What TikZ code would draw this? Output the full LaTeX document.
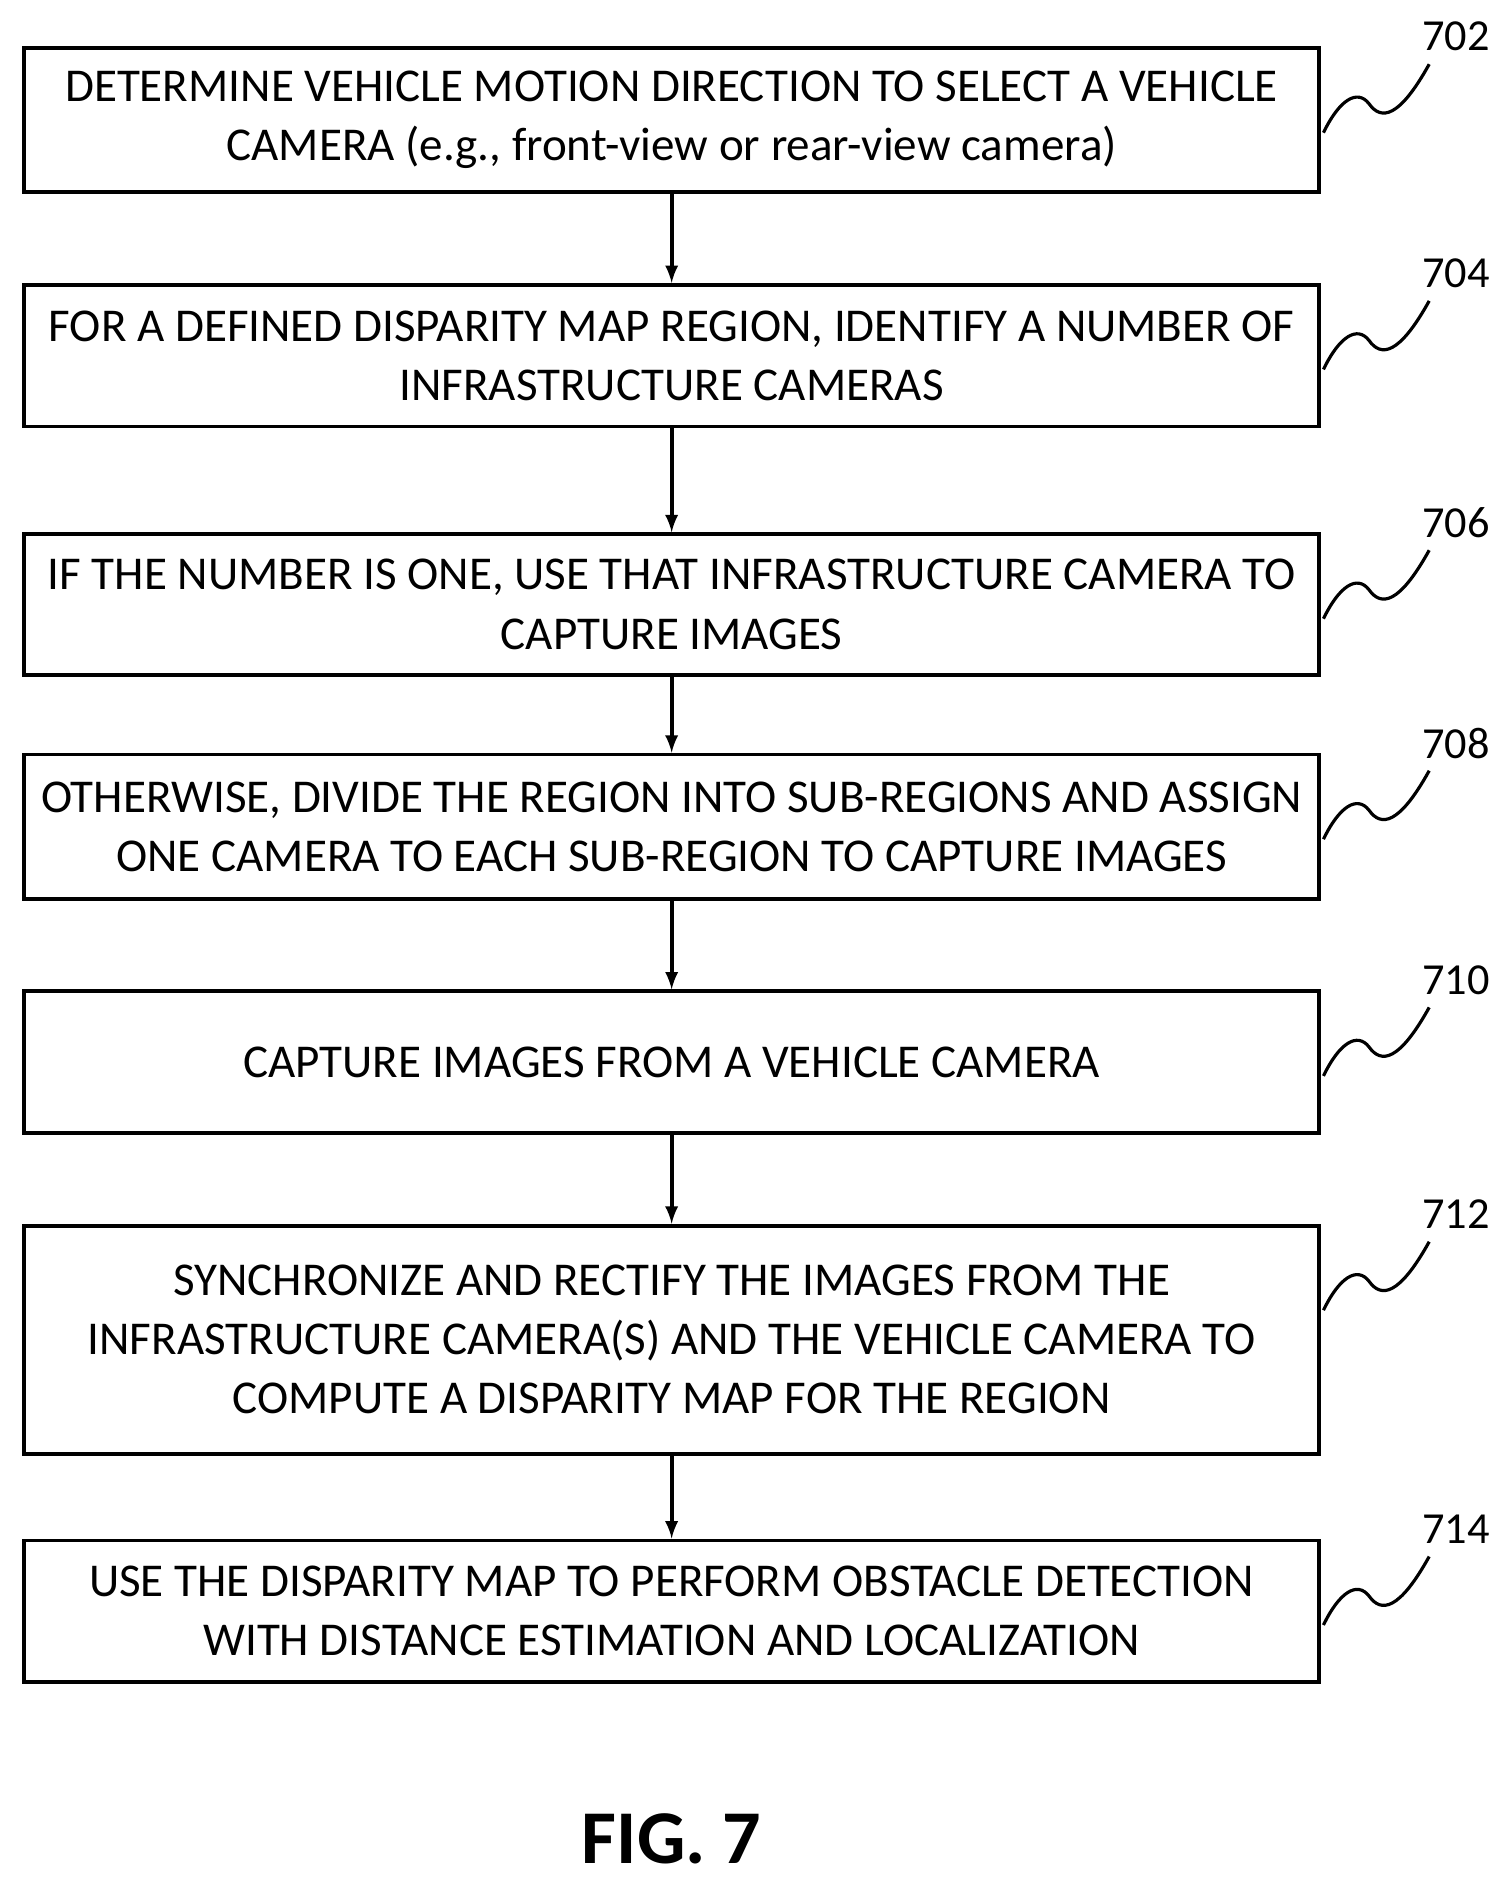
\documentclass[tikz,border=0pt]{standalone}
\usepackage{fontspec}
\setmainfont{Carlito}
\begin{document}
\begin{tikzpicture}[x=0.02cm,y=-0.02cm,
    stage/.style={draw,line width=1.8pt,minimum width=21.56cm,align=center,
      font=\fontsize{22.3}{28}\selectfont,inner sep=0pt},
    flow/.style={-latex,line width=1.8pt},
    tag/.style={font=\fontsize{21}{26}\selectfont,anchor=west}]
      \useasboundingbox (0,0) rectangle (1245,1563);
      \node[stage,minimum height=2.4cm] (s702) at (559,100) {DETERMINE VEHICLE MOTION DIRECTION TO SELECT A VEHICLE\\CAMERA (e.g., front-view or rear-view camera)};
      \node[stage,minimum height=2.36cm] (s704) at (559,296) {FOR A DEFINED DISPARITY MAP REGION, IDENTIFY A NUMBER OF\\INFRASTRUCTURE CAMERAS};
      \node[stage,minimum height=2.34cm] (s706) at (559,503) {IF THE NUMBER IS ONE, USE THAT INFRASTRUCTURE CAMERA TO\\CAPTURE IMAGES};
      \node[stage,minimum height=2.4cm] (s708) at (559,688) {OTHERWISE, DIVIDE THE REGION INTO SUB-REGIONS AND ASSIGN\\ONE CAMERA TO EACH SUB-REGION TO CAPTURE IMAGES};
      \node[stage,minimum height=2.36cm] (s710) at (559,884) {CAPTURE IMAGES FROM A VEHICLE CAMERA};
      \node[stage,minimum height=3.8cm] (s712) at (559,1115) {SYNCHRONIZE AND RECTIFY THE IMAGES FROM THE\\INFRASTRUCTURE CAMERA(S) AND THE VEHICLE CAMERA TO\\COMPUTE A DISPARITY MAP FOR THE REGION};
      \node[stage,minimum height=2.36cm] (s714) at (559,1341) {USE THE DISPARITY MAP TO PERFORM OBSTACLE DETECTION\\WITH DISTANCE ESTIMATION AND LOCALIZATION};
      % arrows between stages
      \foreach \a/\b in {s702/s704,s704/s706,s706/s708,s708/s710,s710/s712,s712/s714}
        \draw[flow] (\a) -- (\b);
      % reference numerals with squiggles
      \foreach \s/\n in {s702/702,s704/704,s706/706,s708/708,s710/710,s712/712,s714/714}{
        \node[tag] (l\n) at ([shift={(78,-8)}]\s.north east) {\n};
        \draw[line width=1.5pt,shift={(\s.north east)}] (2,72)
          .. controls (15,45) and (30,35) .. (40,48)
          .. controls (50,62) and (65,60) .. (90,15);
      }
      \node[font=\fontsize{36}{40}\selectfont\bfseries] (fig) at (559,1530) {FIG. 7};
\end{tikzpicture}
\end{document}
